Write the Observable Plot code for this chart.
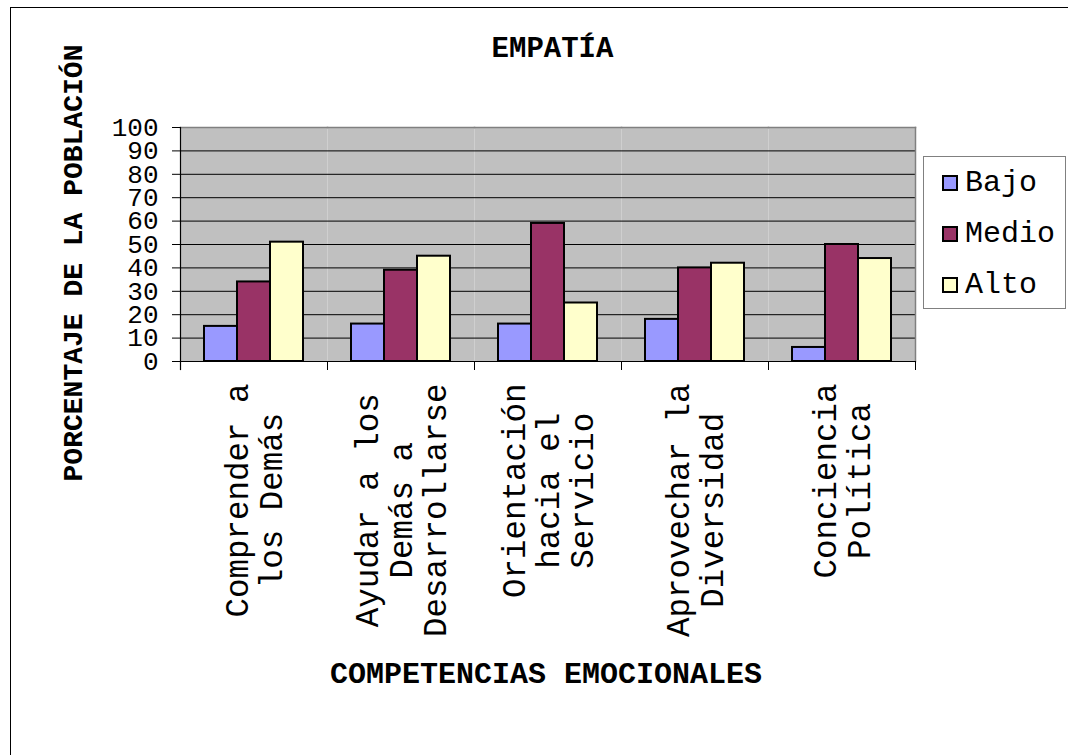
<!DOCTYPE html>
<html>
<head>
<meta charset="utf-8">
<script src="https://cdn.jsdelivr.net/npm/d3@7"></script>
<script src="https://cdn.jsdelivr.net/npm/@observablehq/plot@0.6"></script>
<style>
  html, body { margin: 0; padding: 0; background: #fff; }
  #page { position: relative; width: 1068px; height: 755px; overflow: hidden;
          font-family: "Liberation Mono", "Cousine", "Courier New", "Nimbus Mono PS", "FreeMono", "DejaVu Sans Mono", monospace;
          color: #000; }
  #page svg { position: absolute; left: 0; top: 0; }
  .outer { position: absolute; left: 10px; top: 7px; width: 1200px; height: 900px;
           border: 1px solid #000; box-sizing: border-box; }
  .title { position: absolute; left: 0; width: 1105px; top: 35px; text-align: center;
           font-weight: bold; font-size: 29px; line-height: 30px; white-space: nowrap; }
  .xtitle { position: absolute; left: 0; width: 1092px; top: 660px; text-align: center;
            font-weight: bold; font-size: 30px; line-height: 30px; white-space: nowrap; }
  .ytitle { position: absolute; left: -175px; top: 248.5px; width: 500px; height: 28px;
            text-align: center; font-weight: bold; font-size: 28px; line-height: 28px;
            white-space: nowrap; transform: rotate(-90deg); }
  .legend { position: absolute; left: 923px; top: 156px; width: 143px; height: 153px;
            border: 1px solid #808080; box-sizing: border-box; background: #fff; }
  .legend .item { position: absolute; left: 18px; height: 30px; display: flex; align-items: center;
                  font-size: 30px; line-height: 30px; white-space: nowrap; }
  .legend .sw { width: 16px; height: 16px; border: 2px solid #000; box-sizing: border-box; margin-right: 7px; }
</style>
</head>
<body>
<div id="page"></div>
<script>
// Competencias de empatía: porcentaje de la población por nivel
const categories = [
  "Comprender a los Demás",
  "Ayudar a los Demás a Desarrollarse",
  "Orientación hacia el Servicio",
  "Aprovechar la Diversidad",
  "Conciencia Política"
];
// how each category name wraps under the axis
const categoryLines = [
  ["Comprender a", "los Demás"],
  ["Ayudar a los", "Demás a", "Desarrollarse"],
  ["Orientación", "hacia el", "Servicio"],
  ["Aprovechar la", "Diversidad"],
  ["Conciencia", "Política"]
];
const series = ["Bajo", "Medio", "Alto"];
const bajo  = [15, 16, 16, 18, 6];
const medio = [34, 39, 59, 40, 50];
const alto  = [51, 45, 25, 42, 44];
const yTicks = [0, 10, 20, 30, 40, 50, 60, 70, 80, 90, 100];
const seriesColors = ["#9999FF", "#993366", "#FFFFCC"];

const titleText = "EMPATÍA";
const xTitle = "COMPETENCIAS EMOCIONALES";
const yTitle = "PORCENTAJE DE LA POBLACIÓN";

const valuesBySeries = {Bajo: bajo, Medio: medio, Alto: alto};
const rows = categories.flatMap((cat, i) =>
  series.map(s => ({cat, serie: s, value: valuesBySeries[s][i]}))
);

const FONT = "'Liberation Mono', Cousine, 'Courier New', 'Nimbus Mono PS', FreeMono, 'DejaVu Sans Mono', monospace";
const W = 1068, H = 755;
const mTop = 127, mBottom = 394, mLeft = 180, mRight = 153;
const plotH = H - mTop - mBottom;
const labelSize = 32.5, labelAdvance = labelSize * 0.6;

// one rotated, centred text block per category below its group
const categoryLabelMarks = categories.map((cat, i) => {
  const longest = d3.max(categoryLines[i], l => l.length);
  return Plot.text([cat], {
    fx: d => d,
    text: () => categoryLines[i].join("\n"),
    frameAnchor: "bottom",
    lineAnchor: "middle",
    rotate: -90,
    textAnchor: "middle",
    lineHeight: 1.06,
    fontSize: labelSize,
    fontFamily: FONT,
    fill: "#000",
    dy: 22 + longest * labelAdvance / 2
  });
});

const chart = Plot.plot({
  width: W,
  height: H,
  marginTop: mTop,
  marginBottom: mBottom,
  marginLeft: mLeft,
  marginRight: mRight,
  style: {fontFamily: FONT, background: "transparent", color: "#000", overflow: "visible"},
  fx: {domain: categories, padding: 0, axis: null},
  x: {domain: series, paddingInner: 0, paddingOuter: 0.727, axis: null},
  y: {domain: [0, 100], axis: null},
  color: {domain: series, range: seriesColors},
  marks: [
    Plot.frame({fill: "#C0C0C0"}),
    Plot.gridY(yTicks, {stroke: "#000", strokeOpacity: 1, strokeWidth: 1}),
    Plot.frame({anchor: "top", stroke: "#808080", strokeWidth: 1.5}),
    Plot.frame({anchor: "right", stroke: "#808080", strokeWidth: 1.5, facet: "super"}),
    Plot.barY(rows, {
      fx: "cat", x: "serie", y: "value", fill: "serie",
      stroke: "#000", strokeWidth: 2, inset: 0
    }),
    Plot.ruleY([0], {stroke: "#000", strokeWidth: 1}),
    // category boundary ticks below the axis
    Plot.frame({anchor: "left", stroke: "#000", insetTop: plotH, insetBottom: -8}),
    Plot.frame({anchor: "right", stroke: "#000", insetTop: plotH, insetBottom: -8, facet: "super"}),
    Plot.frame({anchor: "left", stroke: "#000", strokeWidth: 1.2, insetBottom: -8, facet: "super"}),
    Plot.axisY(yTicks, {
      anchor: "left", tickSize: 8, tickPadding: 14, tickFormat: d => String(d),
      fontSize: 26, fontFamily: FONT, fill: "#000", stroke: "#000", label: null
    }),
    ...categoryLabelMarks
  ]
});

const page = document.getElementById("page");
page.append(chart);

function addDiv(cls, text) {
  const el = document.createElement("div");
  el.className = cls;
  if (text != null) el.textContent = text;
  page.append(el);
  return el;
}
addDiv("outer");
addDiv("title", titleText);
addDiv("xtitle", xTitle);
addDiv("ytitle", yTitle);

const legend = addDiv("legend");
series.forEach((s, i) => {
  const item = document.createElement("div");
  item.className = "item";
  item.style.top = (11 + i * 51) + "px";
  const sw = document.createElement("span");
  sw.className = "sw";
  sw.style.background = seriesColors[i];
  const label = document.createElement("span");
  label.textContent = s;
  item.append(sw, label);
  legend.append(item);
});
</script>
</body>
</html>
